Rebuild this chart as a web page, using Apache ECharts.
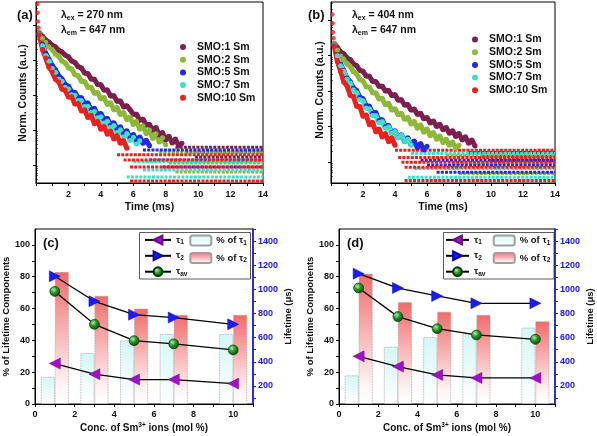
<!DOCTYPE html>
<html><head><meta charset="utf-8">
<script src="https://cdn.jsdelivr.net/npm/echarts@6/dist/echarts.min.js"></script>
<style>html,body{margin:0;padding:0;background:#fff}#c{width:597px;height:436px}</style>
</head><body><div id="c"></div>
<script>
const FONT = '"Liberation Sans", Arial, Helvetica, sans-serif';

// ---------------- Panels (a) & (b): PL decay curves ----------------
const sampleNames = ['SMO:1 Sm', 'SMO:2 Sm', 'SMO:5 Sm', 'SMO:7 Sm', 'SMO:10 Sm'];
const sampleColors = ['#7d1f4f', '#8db83a', '#2626e6', '#40e0c8', '#e8231f'];
const timeEnd = 14; // ms, end of record
const timeMs = [0.2,0.4,0.6,0.8,1.0,1.2,1.4,1.6,1.8,2.0,2.2,2.4,2.6,2.8,3.0,3.2,3.4,3.6,3.8,4.0,
  4.2,4.4,4.6,4.8,5.0,5.2,5.4,5.6,5.8,6.0,6.2,6.4,6.6,6.8,7.0,7.2,7.4,7.6,7.8,8.0,8.2,8.4,8.6,8.8,9.0];
// decay values: log10 of normalized counts
const decayA_1 = [3.78,3.68,3.57,3.51,3.42,3.37,3.28,3.23,3.14,3.09,2.97,2.93,2.81,2.77,2.63,2.61,2.46,2.45,2.30,2.29,
  2.14,2.14,1.97,1.98,1.82,1.83,1.66,1.69,1.58,1.45,1.45,1.28,1.31,1.14,1.16,1.00,1.07,0.86,0.93,0.72,0.82,0.63,0.74,0.55,0.62];
const decayA_2 = [3.78,3.62,3.51,3.38,3.30,3.17,3.11,2.97,2.92,2.78,2.74,2.58,2.55,2.39,2.38,2.22,2.22,2.05,2.07,1.89,
  1.93,1.73,1.78,1.58,1.64,1.44,1.50,1.30,1.37,1.16,1.25,1.02,1.12,0.89,1.00,0.76,0.89,0.66,0.78,0.58];
const decayA_5 = [3.75,3.45,3.19,3.02,2.84,2.72,2.55,2.46,2.30,2.25,2.09,2.07,1.92,1.92,1.75,1.77,1.59,1.62,1.44,1.47,
  1.30,1.33,1.15,1.21,1.02,1.09,0.90,0.98,0.78,0.87,0.70,0.80,0.62,0.71,0.55];
const decayA_7 = [3.73,3.41,3.13,2.97,2.76,2.65,2.46,2.39,2.22,2.17,2.01,1.99,1.84,1.84,1.67,1.68,1.50,1.53,1.35,1.38,
  1.20,1.25,1.07,1.13,0.93,1.01,0.81,0.90,0.70,0.79,0.60,0.69];
const decayA_10 = [3.72,3.30,3.06,2.79,2.66,2.45,2.38,2.17,2.14,1.94,1.95,1.74,1.76,1.54,1.58,1.36,1.42,1.18,1.25,1.02,
  1.10,0.88,0.97,0.74,0.84,0.62,0.70,0.48];
const riseA = [[0.08,4.6],[0.1,4.35],[0.12,4.1],[0.15,3.92]]; // [time, log10 counts]
// background (noise floor) count levels: [start time ms, log10 level]
const floorA_1 = [[8.6,0.51],[9.2,0.37],[9.8,0.23]];
const floorA_2 = [[7.6,0.37],[8.2,0.06],[8.6,-0.2]];
const floorA_5 = [[6.6,0.43],[7.0,0.14],[7.8,-0.06]];
const floorA_7 = [[6.0,0.09],[6.6,-0.14],[5.6,-0.34]];
const floorA_10 = [[5.0,0.29],[5.4,0.14],[5.8,-0.06],[5.8,-0.46]];

const decayB_1 = [3.34,3.22,3.10,3.04,2.93,2.88,2.76,2.71,2.58,2.55,2.42,2.41,2.27,2.26,2.13,2.13,2.00,2.01,1.87,1.89,
  1.74,1.75,1.60,1.62,1.46,1.49,1.34,1.37,1.22,1.25,1.10,1.15,1.00,1.06,0.91,0.97,0.81,0.88,0.72,0.80,0.62,0.71,0.53,0.62,0.45];
const decayB_2 = [3.33,3.15,2.98,2.89,2.76,2.69,2.54,2.48,2.32,2.28,2.12,2.10,1.95,1.94,1.77,1.79,1.61,1.65,1.46,1.50,
  1.33,1.37,1.20,1.25,1.07,1.14,0.95,1.04,0.84,0.93,0.74,0.83,0.64,0.73,0.55,0.64,0.47,0.56,0.39,0.47];
const decayB_5 = [3.30,3.01,2.75,2.57,2.36,2.26,2.08,2.01,1.82,1.78,1.58,1.57,1.37,1.39,1.17,1.19,0.99,1.03,0.82,0.88,
  0.68,0.77,0.58,0.68,0.48,0.59,0.40,0.52,0.34,0.44];
const decayB_7 = [3.29,2.99,2.71,2.55,2.33,2.22,2.03,1.95,1.76,1.72,1.52,1.50,1.31,1.31,1.11,1.14,0.95,0.99,0.81,0.86,
  0.68,0.75,0.58,0.64,0.48];
const decayB_10 = [3.27,2.83,2.55,2.25,2.14,1.88,1.84,1.57,1.56,1.29,1.32,1.05,1.12,0.85,0.93,0.70,0.80,0.57,0.68,0.47];
const riseB = [[0.08,4.15],[0.1,3.9],[0.12,3.65],[0.15,3.48]];
const floorB_1 = [[8.6,0.27],[9.4,0.16],[10.0,0.05]];
const floorB_2 = [[7.2,0.19],[7.6,-0.04],[8.0,-0.32]];
const floorB_5 = [[5.6,0.05],[6.0,-0.09],[6.6,-0.29]];
const floorB_7 = [[5.0,0.24],[5.2,-0.18],[4.8,-0.43]];
const floorB_10 = [[4.0,0.33],[4.2,0.13],[4.4,-0.01],[4.6,-0.15],[4.6,-0.52]];

// ---------------- Panels (c) & (d): lifetimes ----------------
const concMol = [1, 3, 5, 7, 10];
const pctTau1_c = [17, 32, 40, 44, 44];
const pctTau2_c = [83, 68, 60, 56, 56];
const tau1_c = [385, 297, 252, 252, 219];
const tau2_c = [1108, 901, 790, 766, 710];
const tauAv_c = [983, 710, 575, 548, 498];
const pctTau1_d = [18, 36, 42, 44, 48];
const pctTau2_d = [82, 64, 58, 56, 52];
const tau1_d = [445, 360, 291, 266, 266];
const tau2_d = [1130, 1011, 945, 884, 884];
const tauAv_d = [1011, 774, 674, 622, 586];

const timeTicks = [0,1,2,3,4,5,6,7,8,9,10,11,12,13,14];
const timeLabels = [2,4,6,8,10,12,14];
const decadeTicks = [1,10,100,1000,10000];
const minorDecadeTicks = [0.4,0.5,0.6,0.7,0.8,0.9,2,3,4,5,6,7,8,9,20,30,40,50,60,70,80,90,200,300,400,500,600,700,800,900,
  2000,3000,4000,5000,6000,7000,8000,9000,20000,30000,40000];
const concTicks = [0,1,2,3,4,5,6,7,8,9,10,11];
const concLabels = [0,2,4,6,8,10];
const pctTicks = [0,10,20,30,40,50,60,70,80,90,100];
const pctLabels = [0,20,40,60,80,100];
const lifeTicks = [100,200,300,400,500,600,700,800,900,1000,1100,1200,1300,1400,1500];
const lifeLabels = [200,400,600,800,1000,1200,1400];

// ---------------- build ----------------
const p10 = v => Math.pow(10, v);
const tickLabel = {fontSize: 9, fontWeight: 'bold', color: '#111', fontFamily: FONT};
const nameStyle = {fontSize: 10, fontWeight: 'bold', color: '#111', fontFamily: FONT};

function decaySet(decays, floors, rise, xi, yi) {
  const out = [];
  decays.forEach((arr, k) => {
    out.push({
      name: sampleNames[k], type: 'line', xAxisIndex: xi, yAxisIndex: yi, symbol: 'circle', symbolSize: 5,
      showSymbol: true, showAllSymbol: true,
      itemStyle: {color: sampleColors[k]}, lineStyle: {color: sampleColors[k], width: 5}, silent: true,
      data: arr.map((v, i) => [timeMs[i], p10(v)])
    });
    floors[k].forEach(b => out.push({
      name: sampleNames[k] + ' bg', type: 'line', xAxisIndex: xi, yAxisIndex: yi, symbol: 'none', silent: true,
      lineStyle: {color: sampleColors[k], width: 3, type: [3, 1.2]},
      data: [[b[0], p10(b[1])], [timeEnd, p10(b[1])]]
    }));
  });
  out.push({
    name: 'rise', type: 'scatter', xAxisIndex: xi, yAxisIndex: yi, symbolSize: 4.5, silent: true,
    itemStyle: {color: sampleColors[4]}, data: rise.map(p => [p[0], p10(p[1])])
  });
  return out;
}

const triLeft = 'path://M0,5L10,0L10,10Z';
const triRight = 'path://M0,0L10,5L0,10Z';
const sphere = {type: 'radial', x: 0.38, y: 0.35, r: 0.65, colorStops: [
  {offset: 0, color: '#b8f0b0'}, {offset: 0.45, color: '#2a9a2a'}, {offset: 1, color: '#0a4a0a'}]};

function lifeSet(p1, p2, t1, t2, tav, xi, yl, yr) {
  const zip = arr => concMol.map((c, i) => [c, arr[i]]);
  return [
    {name: '% of τ1', type: 'bar', xAxisIndex: xi, yAxisIndex: yl, barWidth: 14, barGap: '0%',
      itemStyle: {color: {type: 'linear', x: 0, y: 0, x2: 0, y2: 1, colorStops: [
        {offset: 0, color: '#d3f7f7'}, {offset: 1, color: '#ffffff'}]},
        borderColor: '#a0a0a0', borderWidth: 0.8, borderType: 'dotted'},
      data: zip(p1), silent: true},
    {name: '% of τ2', type: 'bar', xAxisIndex: xi, yAxisIndex: yl, barWidth: 14, barGap: '0%',
      itemStyle: {color: {type: 'linear', x: 0, y: 0, x2: 0, y2: 1, colorStops: [
        {offset: 0, color: '#f26a6a'}, {offset: 0.85, color: '#fff4f4'}, {offset: 1, color: '#ffffff'}]},
        borderColor: '#a0a0a0', borderWidth: 0.8, borderType: 'dotted'},
      data: zip(p2), silent: true},
    {name: 'τ1', type: 'line', xAxisIndex: xi, yAxisIndex: yr, symbol: triLeft, symbolSize: [11, 11],
      itemStyle: {color: '#a20fc8', borderColor: '#6a0a86', borderWidth: 0.5},
      lineStyle: {color: '#000', width: 1.3}, data: zip(t1), silent: true, z: 5},
    {name: 'τ2', type: 'line', xAxisIndex: xi, yAxisIndex: yr, symbol: triRight, symbolSize: [11, 11],
      itemStyle: {color: '#1a1aff', borderColor: '#0a0aa0', borderWidth: 0.5},
      lineStyle: {color: '#000', width: 1.3}, data: zip(t2), silent: true, z: 5},
    {name: 'τav', type: 'line', xAxisIndex: xi, yAxisIndex: yr, symbol: 'circle', symbolSize: 10,
      itemStyle: {color: sphere, borderColor: '#063806', borderWidth: 0.6},
      lineStyle: {color: '#000', width: 1.3}, data: zip(tav), silent: true, z: 5}
  ];
}

function timeAxis(gi) {
  return {type: 'value', gridIndex: gi, min: 0, max: timeEnd,
    axisLine: {show: true, onZero: false, lineStyle: {color: '#000', width: 1}},
    axisTick: {show: true, inside: false, length: 3, customValues: timeTicks, lineStyle: {color: '#000'}},
    axisLabel: {customValues: timeLabels, margin: 7, ...tickLabel},
    splitLine: {show: false},
    name: 'Time (ms)', nameLocation: 'middle', nameGap: 19, nameTextStyle: {...nameStyle, fontSize: 10.5}};
}
function countAxis(gi, mn, mx) {
  return {type: 'log', logBase: 10, gridIndex: gi, min: mn, max: mx,
    axisLine: {show: true, onZero: false, lineStyle: {color: '#000', width: 1}},
    axisTick: {show: true, inside: false, length: 3, customValues: decadeTicks, lineStyle: {color: '#000'}},
    axisLabel: {show: false}, splitLine: {show: false}};
}
function countMinorAxis(gi, mn, mx) {
  return {type: 'log', logBase: 10, gridIndex: gi, min: mn, max: mx,
    axisLine: {show: false},
    axisTick: {show: true, inside: false, length: 1.6, customValues: minorDecadeTicks, lineStyle: {color: '#000'}},
    axisLabel: {show: false}, splitLine: {show: false}};
}
function concAxis(gi) {
  return {type: 'value', gridIndex: gi, min: 0, max: 11,
    axisLine: {show: true, onZero: false, lineStyle: {color: '#000', width: 1}},
    axisTick: {show: true, inside: false, length: 3, customValues: concTicks, lineStyle: {color: '#000'}},
    axisLabel: {customValues: concLabels, margin: 6, ...tickLabel},
    splitLine: {show: false},
    name: 'Conc. of Sm{sup|3+} ions (mol %)', nameLocation: 'middle', nameGap: 18,
    nameTextStyle: {...nameStyle, rich: {sup: {fontSize: 6.5, fontWeight: 'bold', fontFamily: FONT, color: '#111', padding: [0, 0, 6, 0]}}}};
}
function pctAxis(gi) {
  return {type: 'value', gridIndex: gi, min: 0, max: 110, position: 'left',
    axisLine: {show: true, onZero: false, lineStyle: {color: '#000', width: 1}},
    axisTick: {show: true, inside: false, length: 3, customValues: pctTicks, lineStyle: {color: '#000'}},
    axisLabel: {customValues: pctLabels, margin: 5, ...tickLabel},
    splitLine: {show: false},
    name: '% of Lifetime Components', nameLocation: 'middle', nameGap: 20, nameTextStyle: {...nameStyle, fontSize: 9.5}};
}
function lifeAxis(gi) {
  return {type: 'value', gridIndex: gi, min: 50, max: 1500, position: 'right',
    axisLine: {show: true, onZero: false, lineStyle: {color: '#1515ff', width: 1.5}},
    axisTick: {show: true, inside: false, length: 3, customValues: lifeTicks, lineStyle: {color: '#1515ff'}},
    axisLabel: {customValues: lifeLabels, margin: 5, ...tickLabel, color: '#1515ff', formatter: v => String(v)},
    splitLine: {show: false},
    name: 'Lifetime (μs)', nameLocation: 'middle', nameGap: 30, nameRotate: 90, nameTextStyle: {...nameStyle, fontSize: 9.5}};
}

const subRich = {s: {fontSize: 6.5, fontWeight: 'bold', fontFamily: FONT, color: '#111', padding: [5, 0, 0, 0]}};
const tauFmt = n => n.replace(/τ(.+)$/, 'τ{s|$1}');
function sampleLegend(left, top) {
  return {data: sampleNames, orient: 'vertical', left: left, top: top, padding: 0, itemWidth: 18, itemHeight: 6, itemGap: 0.7,
    icon: 'circle', selectedMode: false,
    textStyle: {fontSize: 10.5, fontWeight: 'bold', color: '#111', fontFamily: FONT, lineHeight: 12}};
}
function tauLegends(l1, iw1, l2, iw2, top) {
  return [
    {data: ['τ1', 'τ2', 'τav'], orient: 'vertical', left: l1, top: top, padding: 0, itemWidth: iw1, itemHeight: 11, itemGap: 4.5,
      selectedMode: false, formatter: tauFmt, z: 6,
      textStyle: {fontSize: 9.5, fontWeight: 'bold', color: '#111', fontFamily: FONT, rich: subRich}},
    {data: ['% of τ1', '% of τ2'], orient: 'vertical', left: l2, top: top, padding: 0, itemWidth: iw2, itemHeight: 10, itemGap: 5.5,
      selectedMode: false, formatter: tauFmt, z: 6,
      textStyle: {fontSize: 9.5, fontWeight: 'bold', color: '#111', fontFamily: FONT, rich: subRich}}
  ];
}

const lamRich = {
  b: {fontSize: 10.5, fontWeight: 'bold', fontFamily: FONT, color: '#111'},
  s: {fontSize: 7, fontWeight: 'bold', fontFamily: FONT, color: '#111', padding: [6, 0, 0, 0]}
};
function txt(x, y, text, size, extra) {
  return Object.assign({type: 'text', x: x, y: y, z: 10,
    style: {text: text, fontSize: size, fontWeight: 'bold', fontFamily: FONT, fill: '#111', align: 'left', verticalAlign: 'middle'}}, extra || {});
}
function richTxt(x, y, text) {
  return {type: 'text', x: x, y: y, z: 10,
    style: {text: text, rich: lamRich, fontSize: 10.5, fontWeight: 'bold', fontFamily: FONT, fill: '#111', align: 'left', verticalAlign: 'middle'}};
}
function vTitle(x, y, text) {
  return {type: 'text', x: x, y: y, rotation: Math.PI / 2, z: 10,
    style: {text: text, fontSize: 10.5, fontWeight: 'bold', fontFamily: FONT, fill: '#111', align: 'center', verticalAlign: 'middle'}};
}

const option = {
  animation: false,
  textStyle: {fontFamily: FONT},
  grid: [
    {left: 36, top: 2, width: 227, height: 181, show: true, borderColor: '#000', borderWidth: 1},
    {left: 331, top: 2, width: 224, height: 181, show: true, borderColor: '#000', borderWidth: 1},
    {left: 35, top: 229, width: 218, height: 175, show: true, borderColor: '#000', borderWidth: 1},
    {left: 339, top: 229, width: 216, height: 175, show: true, borderColor: '#000', borderWidth: 1}
  ],
  xAxis: [timeAxis(0), timeAxis(1), concAxis(2), concAxis(3)],
  yAxis: [
    countAxis(0, 0.306, 45400), countAxis(1, 0.257, 31600),
    pctAxis(2), lifeAxis(2), pctAxis(3), lifeAxis(3),
    countMinorAxis(0, 0.306, 45400), countMinorAxis(1, 0.257, 31600)
  ],
  legend: [
    sampleLegend(180, 41), sampleLegend(472, 33.5),
    ...tauLegends(144, 26, 189.3, 21, 234.5),
    ...tauLegends(445, 23, 492.7, 21, 234.5)
  ],
  graphic: [
    txt(17, 15, '(a)', 13), txt(308, 15, '(b)', 13),
    txt(43, 243, '(c)', 13), txt(347, 243, '(d)', 13),
    richTxt(61, 15, '{b|λ}{s|ex}{b| = 270 nm}'), richTxt(61, 30, '{b|λ}{s|em}{b| = 647 nm}'),
    richTxt(352, 15, '{b|λ}{s|ex}{b| = 404 nm}'), richTxt(352, 30, '{b|λ}{s|em}{b| = 647 nm}'),
    vTitle(23.5, 93, 'Norm. Counts (a.u.)'), vTitle(320.5, 90, 'Norm. Counts (a.u.)'),
    {type: 'rect', z: 3, shape: {x: 139.5, y: 232.5, width: 111, height: 46.5}, style: {fill: '#fff', stroke: '#333', lineWidth: 0.8}},
    {type: 'rect', z: 3, shape: {x: 443.5, y: 232.5, width: 110.5, height: 46.5}, style: {fill: '#fff', stroke: '#333', lineWidth: 0.8}}
  ],
  series: [
    ...decaySet([decayA_1, decayA_2, decayA_5, decayA_7, decayA_10], [floorA_1, floorA_2, floorA_5, floorA_7, floorA_10], riseA, 0, 0),
    ...decaySet([decayB_1, decayB_2, decayB_5, decayB_7, decayB_10], [floorB_1, floorB_2, floorB_5, floorB_7, floorB_10], riseB, 1, 1),
    ...lifeSet(pctTau1_c, pctTau2_c, tau1_c, tau2_c, tauAv_c, 2, 2, 3),
    ...lifeSet(pctTau1_d, pctTau2_d, tau1_d, tau2_d, tauAv_d, 3, 4, 5)
  ]
};
const chart = echarts.init(document.getElementById('c'), null, {renderer: 'canvas'});
chart.setOption(option);
</script>
</body></html>
